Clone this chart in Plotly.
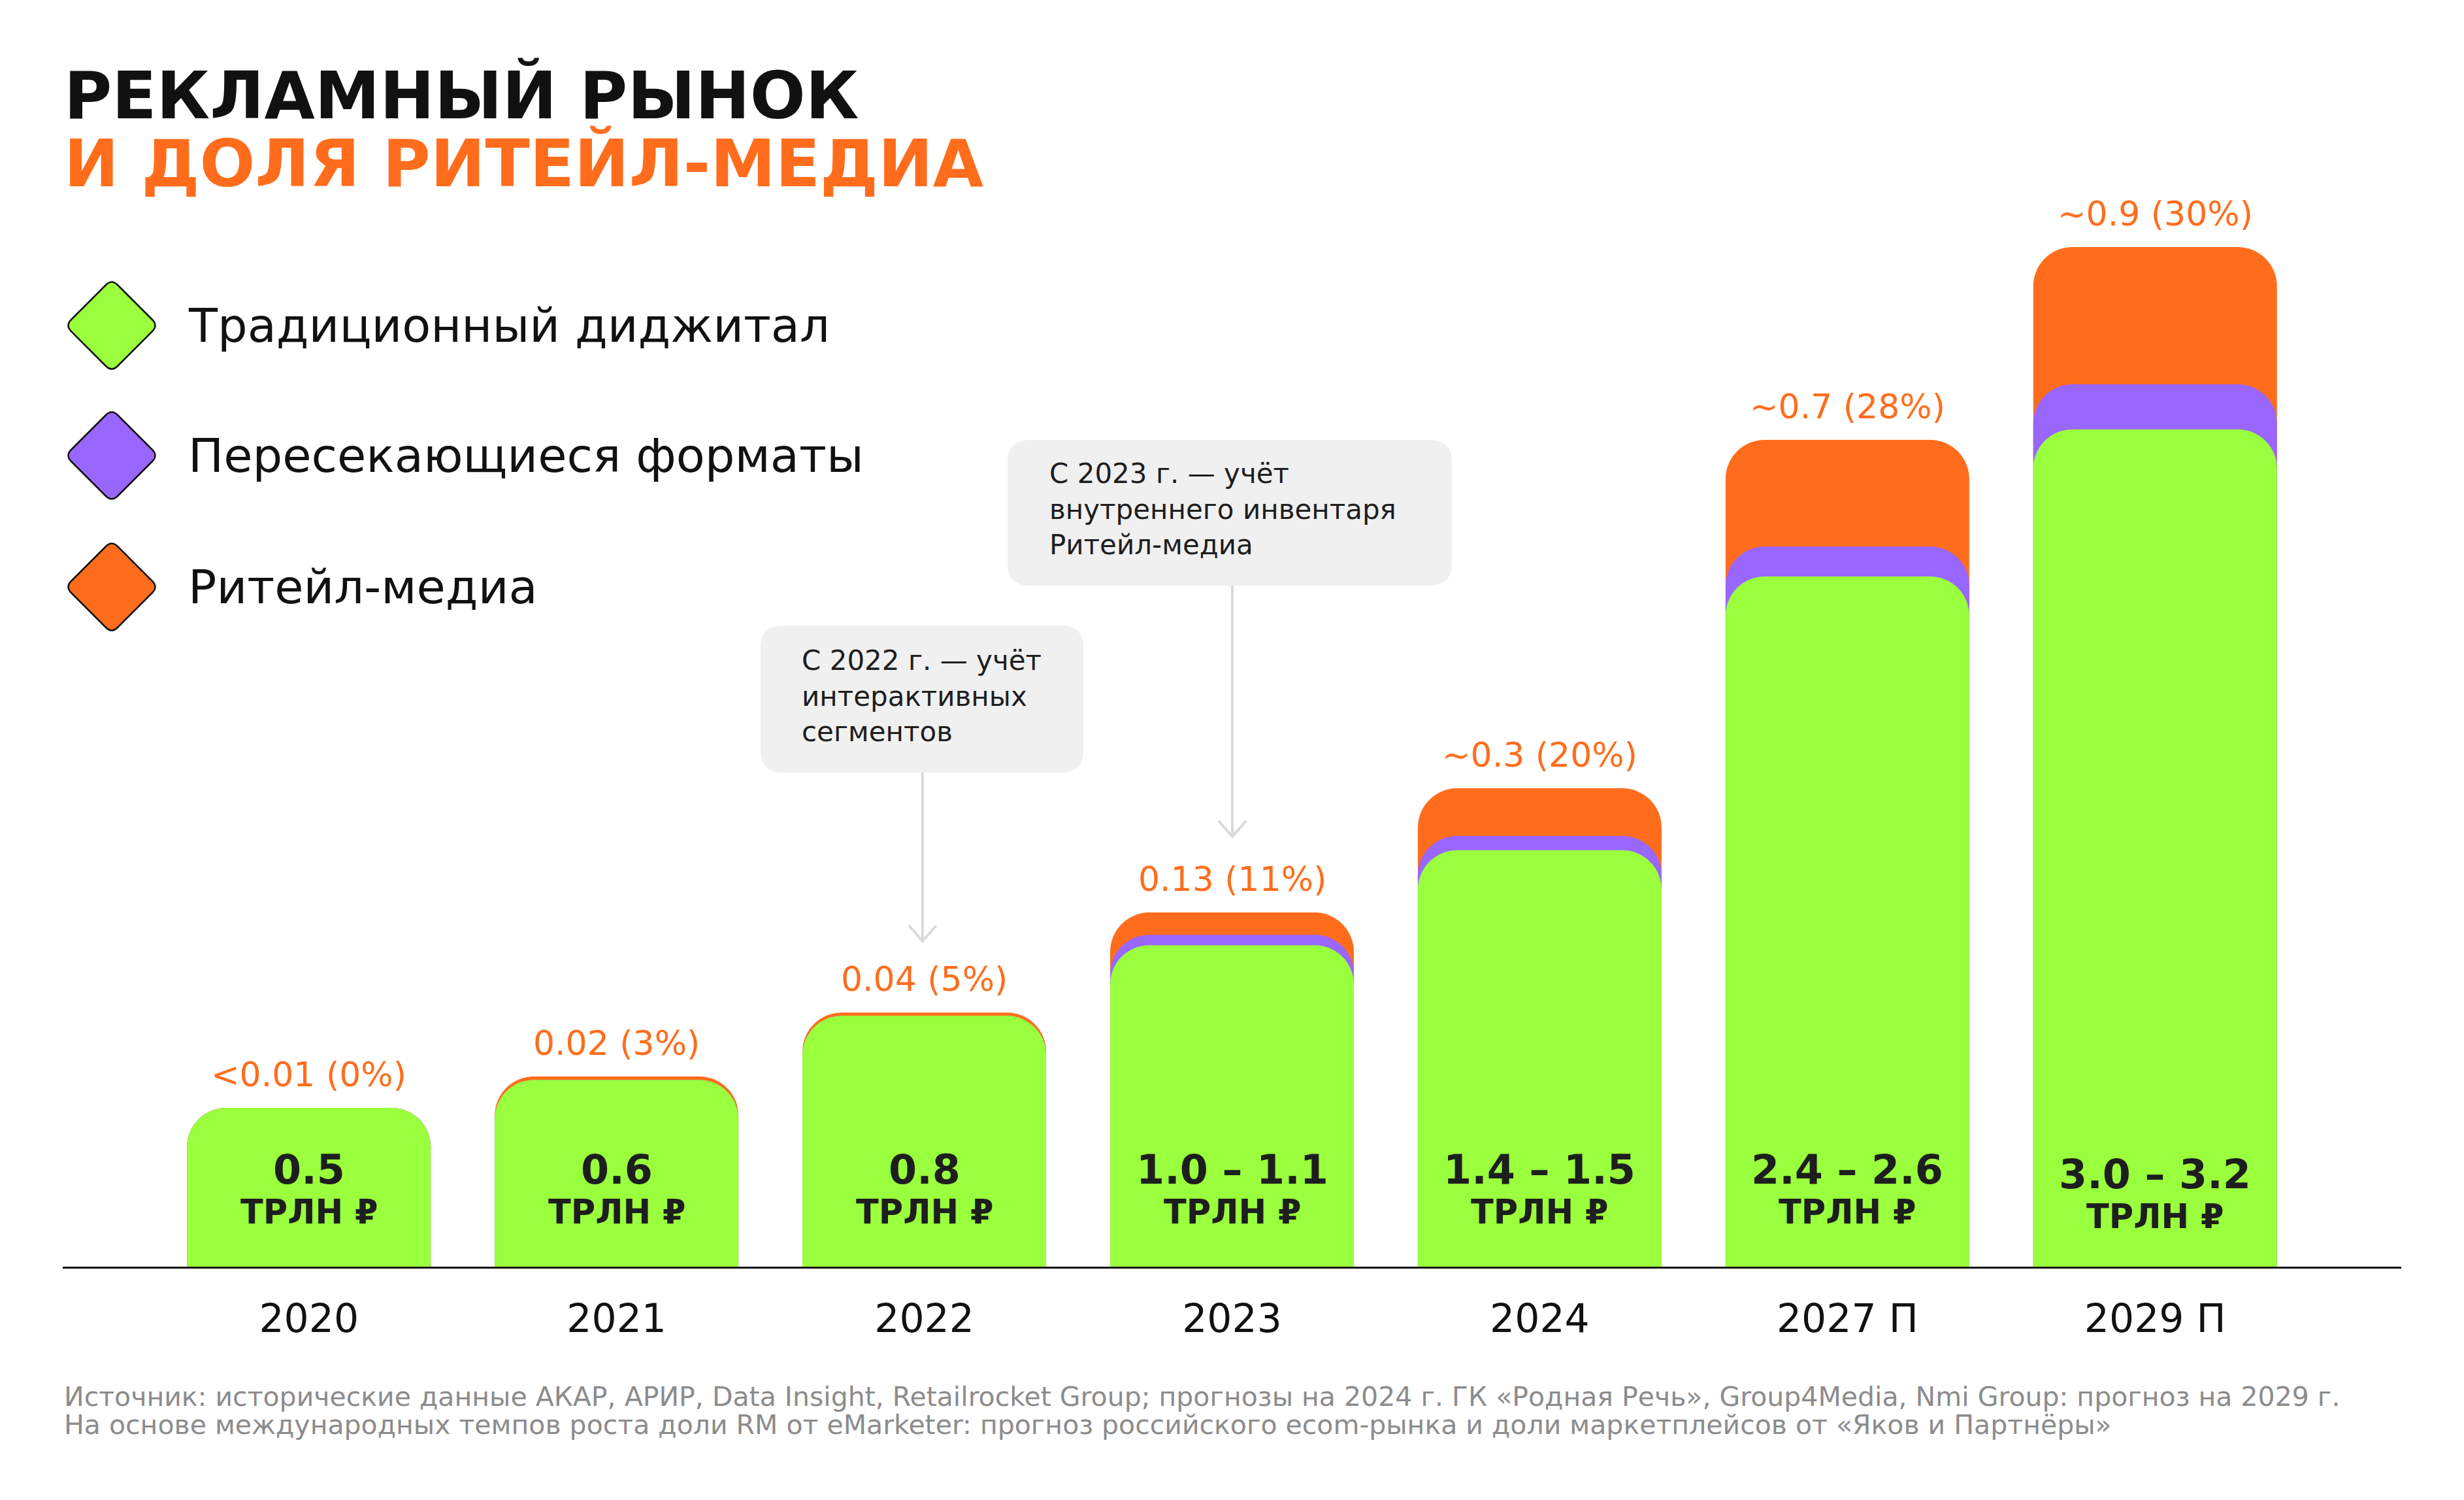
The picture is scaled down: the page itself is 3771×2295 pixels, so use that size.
import numpy as np
import plotly.graph_objects as go

W, H = 3771, 2295

# ---------------- data ----------------
years = ["2020", "2021", "2022", "2023", "2024", "2027 П", "2029 П"]
traditional = [0.50, 0.588, 0.79, 1.012, 1.311, 2.173, 2.636]   # Традиционный диджитал
crossing = [0.0, 0.0, 0.0, 0.033, 0.045, 0.094, 0.142]          # Пересекающиеся форматы
retail = [0.0, 0.011, 0.01, 0.07, 0.15, 0.336, 0.432]           # Ритейл-медиа
market_labels = ["0.5", "0.6", "0.8", "1.0 – 1.1", "1.4 – 1.5", "2.4 – 2.6", "3.0 – 3.2"]
retail_labels = ["&lt;0.01 (0%)", "0.02 (3%)", "0.04 (5%)", "0.13 (11%)",
                 "~0.3 (20%)", "~0.7 (28%)", "~0.9 (30%)"]
legend_names = ["Традиционный диджитал", "Пересекающиеся форматы", "Ритейл-медиа"]
note_2022 = ["С 2022 г. — учёт", "интерактивных", "сегментов"]
note_2023 = ["С 2023 г. — учёт", "внутреннего инвентаря", "Ритейл-медиа"]
footer = ["Источник: исторические данные АКАР, АРИР, Data Insight, Retailrocket Group; прогнозы на 2024 г. ГК «Родная Речь», Group4Media, Nmi Group: прогноз на 2029 г.",
          "На основе международных темпов роста доли RM от eMarketer: прогноз российского ecom-рынка и доли маркетплейсов от «Яков и Партнёры»"]

GREEN = "#9AFF3C"
PURPLE = "#9966FF"
ORANGE = "#FF6D1C"
DARK = "#1E1E1E"
FONT = "DejaVu Sans, Noto Sans, sans-serif"

cum_green = np.array(traditional)
cum_purple = cum_green + np.array(crossing)
cum_total = cum_purple + np.array(retail)

def X(px):
    return px / W

def Y(py):
    return 1 - py / H

BAR_W = 0.792
RADIUS = 60
AXIS_Y = 1938
X_DOMAIN = [X(96), X(3675)]
X_RANGE = [-0.8, 6.8]

fig = go.Figure()
for vals, col, nm, xa in [(cum_total, ORANGE, legend_names[2], "x"),
                          (cum_purple, PURPLE, legend_names[1], "x2"),
                          (cum_green, GREEN, legend_names[0], "x3")]:
    fig.add_trace(go.Bar(x=years, y=vals, width=BAR_W, name=nm, xaxis=xa, yaxis="y",
                         marker=dict(color=col, cornerradius=RADIUS, line=dict(width=0)),
                         hoverinfo="skip", showlegend=False))

annotations = []
shapes = []

# retail-media labels above bars
for i, yr in enumerate(years):
    annotations.append(dict(x=i, y=cum_total[i], xref="x", yref="y", yshift=51,
                            text=retail_labels[i], showarrow=False, yanchor="middle",
                            font=dict(family=FONT, size=52, color=ORANGE)))

# market size labels inside bars
for i, yr in enumerate(years):
    dy = 7 if i == len(years) - 1 else 0
    annotations.append(dict(x=i, y=Y(1789 + dy), xref="x", yref="paper",
                            text="<b>" + market_labels[i] + "</b>", showarrow=False,
                            yanchor="middle", font=dict(family=FONT, size=62, color=DARK)))
    annotations.append(dict(x=i, y=Y(1854 + dy), xref="x", yref="paper",
                            text="<b>ТРЛН ₽</b>", showarrow=False,
                            yanchor="middle", font=dict(family=FONT, size=51, color=DARK)))

# title
annotations.append(dict(x=X(96), y=Y(146), xref="paper", yref="paper", xanchor="left",
                        yanchor="middle", showarrow=False, text="<b>РЕКЛАМНЫЙ РЫНОК</b>",
                        font=dict(family=FONT, size=100, color="#111111")))
annotations.append(dict(x=X(96), y=Y(251), xref="paper", yref="paper", xanchor="left",
                        yanchor="middle", showarrow=False, text="<b>И ДОЛЯ РИТЕЙЛ-МЕДИА</b>",
                        font=dict(family=FONT, size=100, color=ORANGE)))

# legend (diamonds + labels)
def diamond(cx, cy, h, r):
    pts = [(cx, cy - h), (cx + h, cy), (cx, cy + h), (cx - h, cy)]
    k = r / h
    d = ""
    for j in range(4):
        p = pts[j]
        prev = pts[j - 1]
        nxt = pts[(j + 1) % 4]
        a = (p[0] + (prev[0] - p[0]) * k, p[1] + (prev[1] - p[1]) * k)
        b = (p[0] + (nxt[0] - p[0]) * k, p[1] + (nxt[1] - p[1]) * k)
        d += ("M" if j == 0 else "L") + f"{X(a[0]):.6f},{Y(a[1]):.6f} "
        d += f"Q{X(p[0]):.6f},{Y(p[1]):.6f} {X(b[0]):.6f},{Y(b[1]):.6f} "
    return d + "Z"

for nm, col, cy in zip(legend_names, [GREEN, PURPLE, ORANGE], [498, 697, 898]):
    shapes.append(dict(type="path", xref="paper", yref="paper", path=diamond(171, cy, 71, 9),
                       fillcolor=col, line=dict(color="#111111", width=2.5), layer="above"))
    annotations.append(dict(x=X(286), y=Y(cy), xref="paper", yref="paper", xanchor="left",
                            yanchor="middle", showarrow=False, text=nm,
                            font=dict(family=FONT, size=72, color="#111111")))

# note boxes
def rrect(x0, y0, x1, y1, r):
    p = lambda x, y: f"{X(x):.6f},{Y(y):.6f}"
    return (f"M{p(x0 + r, y0)} L{p(x1 - r, y0)} Q{p(x1, y0)} {p(x1, y0 + r)} "
            f"L{p(x1, y1 - r)} Q{p(x1, y1)} {p(x1 - r, y1)} L{p(x0 + r, y1)} "
            f"Q{p(x0, y1)} {p(x0, y1 - r)} L{p(x0, y0 + r)} Q{p(x0, y0)} {p(x0 + r, y0)} Z")

ARROW = "#DADADA"
for (bx0, by0, bx1, by1), lines, tx, tcy, ax, atip in [
        ((1164, 957, 1658, 1182), note_2022, 1225, 1065, 1412, 1440),
        ((1542, 673, 2222, 896), note_2023, 1604, 779, 1886, 1280)]:
    shapes.append(dict(type="path", xref="paper", yref="paper", path=rrect(bx0, by0, bx1, by1, 34),
                       fillcolor="#F0F0F0", line=dict(width=0), layer="below"))
    annotations.append(dict(x=X(tx), y=Y(tcy), xref="paper", yref="paper", xanchor="left",
                            yanchor="middle", align="left", showarrow=False,
                            text="<br>".join(lines),
                            font=dict(family=FONT, size=42, color=DARK)))
    shapes.append(dict(type="line", xref="paper", yref="paper", x0=X(ax), x1=X(ax),
                       y0=Y(by1), y1=Y(atip - 1), line=dict(color=ARROW, width=4)))
    shapes.append(dict(type="path", xref="paper", yref="paper",
                       path=f"M{X(ax - 21):.6f},{Y(atip - 24):.6f} L{X(ax):.6f},{Y(atip):.6f} L{X(ax + 21):.6f},{Y(atip - 24):.6f}",
                       line=dict(color=ARROW, width=4)))

# footer
for line, cy in zip(footer, [2137, 2180]):
    annotations.append(dict(x=X(96), y=Y(cy), xref="paper", yref="paper", xanchor="left",
                            yanchor="middle", showarrow=False, text=line,
                            font=dict(family=FONT, size=41, color="#8C8C8C")))

hidden_x = dict(domain=X_DOMAIN, range=X_RANGE, type="category", overlaying="x",
                visible=False, showgrid=False, zeroline=False, fixedrange=True)

fig.update_layout(
    width=W, height=H, margin=dict(l=0, r=0, t=0, b=0),
    paper_bgcolor="white", plot_bgcolor="white",
    barmode="overlay", showlegend=False,
    font=dict(family=FONT, color=DARK),
    xaxis=dict(domain=X_DOMAIN, range=X_RANGE, type="category",
               showline=True, linecolor="#111111", linewidth=3, showgrid=False,
               zeroline=False, ticks="", tickfont=dict(family=FONT, size=60, color="#111111"),
               ticklabelstandoff=25, fixedrange=True),
    xaxis2=hidden_x, xaxis3=hidden_x,
    yaxis=dict(domain=[Y(AXIS_Y), 1], range=[0, AXIS_Y / 486.0], visible=False,
               showgrid=False, zeroline=False, fixedrange=True),
    annotations=annotations, shapes=shapes,
)

fig.write_html("out.html")
